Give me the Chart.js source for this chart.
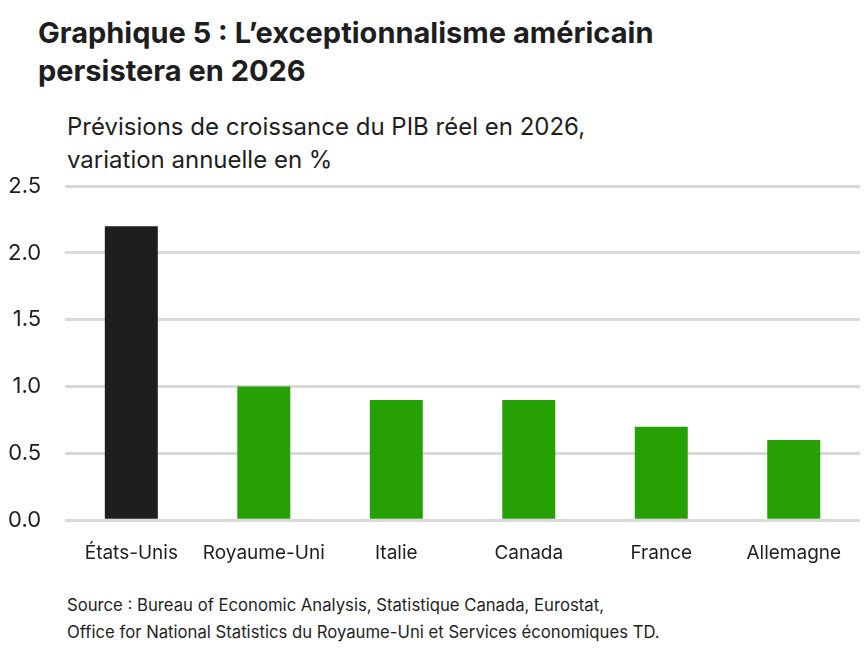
<!DOCTYPE html>
<html lang="fr">
<head>
<meta charset="utf-8">
<script src="https://cdn.jsdelivr.net/npm/chart.js@4"></script>
<style>
  body { margin: 0; width: 868px; height: 648px; background: #fff; font-family: Inter, "Open Sans", sans-serif; color: #1e1e1e; position: relative; overflow: hidden; }
  #title { position: absolute; left: 38px; top: 14px; font-size: 29px; font-weight: 700; line-height: 38px; }
  #subtitle { position: absolute; left: 67px; top: 110px; font-size: 24px; line-height: 33px; }
  #source { position: absolute; left: 67px; top: 592px; font-size: 16.7px; line-height: 27px; }
  #wrap { position: absolute; left: -26px; top: 149px; width: 894px; height: 438px; }
</style>
</head>
<body>
<div id="title">Graphique 5 : L’exceptionnalisme américain<br>persistera en 2026</div>
<div id="subtitle">Prévisions de croissance du PIB réel en 2026,<br>variation annuelle en %</div>
<div id="wrap"><canvas id="growthChart"></canvas></div>
<div id="source">Source : Bureau of Economic Analysis, Statistique Canada, Eurostat,<br>Office for National Statistics du Royaume-Uni et Services économiques TD.</div>
<script>
// pays et prévisions 2026
const countries = ["États-Unis", "Royaume-Uni", "Italie", "Canada", "France", "Allemagne"];
const growth2026 = [2.2, 1.0, 0.9, 0.9, 0.7, 0.6];
const barColors = ["#1e1e1e", "#26a005", "#26a005", "#26a005", "#26a005", "#26a005"];

const ctx = document.getElementById("growthChart").getContext("2d");

new Chart(ctx, {
    type: "bar",
    data: {
        labels: countries,
        datasets: [{
            data: growth2026,
            backgroundColor: barColors,
            borderWidth: 0,
            categoryPercentage: 1.0,
            barPercentage: 0.4
        }]
    },
    options: {
        responsive: true,
        maintainAspectRatio: false,
        animation: false,
        plugins: {
            legend: { display: false },
            tooltip: { enabled: false }
        },
        layout: {
            padding: { left: 10, right: 8, top: 7, bottom: 0 }
        },
        scales: {
            y: {
                min: 0,
                max: 2.5,
                ticks: {
                    stepSize: 0.5,
                    padding: 24,
                    color: "#1e1e1e",
                    font: { family: "Inter", size: 22 },
                    callback: v => v.toFixed(1)
                },
                grid: { color: "#d9d9d9", lineWidth: 3, drawTicks: false },
                border: { display: false }
            },
            x: {
                ticks: {
                    padding: 22,
                    maxRotation: 0,
                    minRotation: 0,
                    autoSkip: false,
                    color: "#1e1e1e",
                    font: { family: "Inter", size: 19 }
                },
                grid: { display: false, drawTicks: false },
                border: { display: false }
            }
        }
    }
});
</script>
</body>
</html>
